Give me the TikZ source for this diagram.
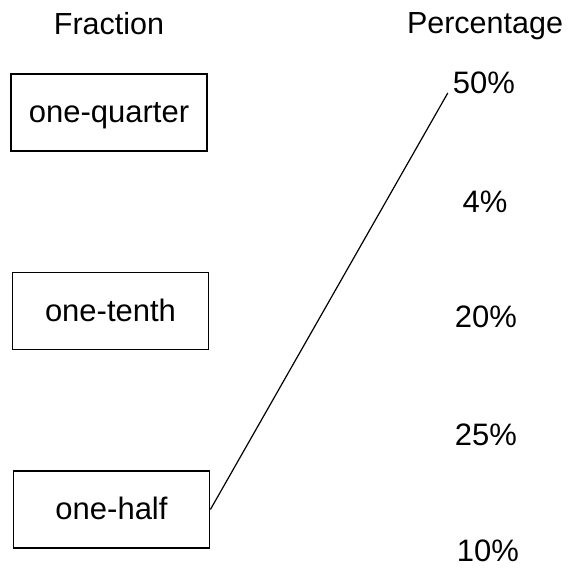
\documentclass[tikz,border=0pt]{standalone}
\usepackage{fontspec}
\setmainfont{Liberation Sans}
\begin{document}
\begin{tikzpicture}[x=1pt,y=-1pt,
  lbl/.style={font=\fontsize{31}{36}\selectfont, inner sep=0pt, anchor=base},
  head/.style={font=\fontsize{30.5}{36}\selectfont, inner sep=0pt, anchor=base},
  fbox/.style={draw, line width=1.8pt, minimum width=196pt, minimum height=77pt, inner sep=0pt,
    text height=20pt, text depth=0pt, font=\fontsize{31}{36}\selectfont},
  link/.style={line width=1.2pt}]
\useasboundingbox (0,0) rectangle (568,568);
\node[head] (hfrac) at (109,34) {Fraction};
\node[head] (hperc) at (485,33) {Percentage};
\node[fbox] (q) at (109,112.5) {one-quarter};
\node[fbox] (t) at (110.5,311) {one-tenth};
\node[fbox] (h) at (111.5,509.5) {one-half};
\node[lbl] (p50) at (484,93) {50\%};
\node[lbl] (p4) at (485,212) {4\%};
\node[lbl] (p20) at (486,327) {20\%};
\node[lbl] (p25) at (486,445) {25\%};
\node[lbl] (p10) at (488,561) {10\%};
\draw[link] (h.east) -- ([xshift=-5pt]p50.base west);
\end{tikzpicture}
\end{document}
